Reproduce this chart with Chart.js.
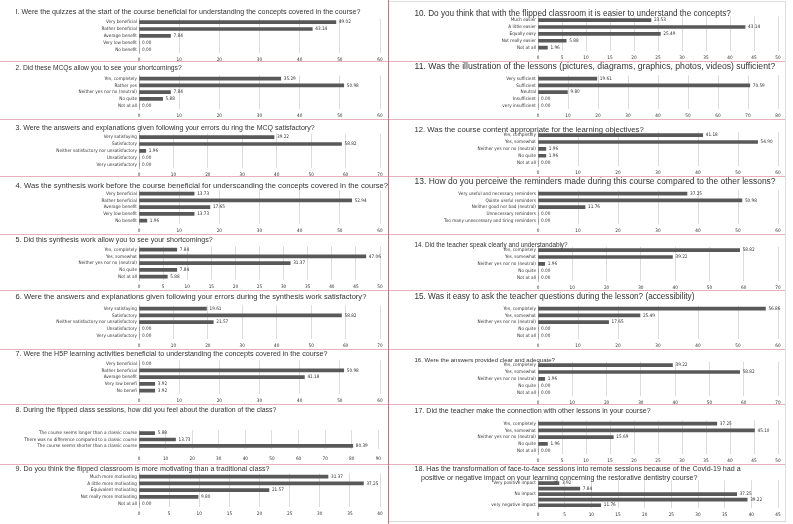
<!DOCTYPE html>
<html>
<head>
<meta charset="utf-8">
<script src="https://cdn.jsdelivr.net/npm/chart.js@4.4.1/dist/chart.umd.min.js"></script>
<style>
  html, body { margin: 0; padding: 0; background: #fff; }
  #sheet { position: relative; width: 793px; height: 524px; overflow: hidden; }
  #sheet canvas { position: absolute; }
  .title { position: absolute; white-space: pre; font-family: "Liberation Sans", Arial, sans-serif; color: #333; }
  .line { position: absolute; }
</style>
</head>
<body>
<div id="sheet"></div>
<script>
// --- survey answers (percent of students) ---
const q1Labels = ["Very beneficial", "Rather beneficial", "Average benefit", "Very low benefit", "No benefit"];
const q1Values = [49.02, 43.14, 7.84, 0, 0];
const q2Labels = ["Yes, completely", "Rather yes", "Neither yes nor no (neutral)", "No quite", "Not at all"];
const q2Values = [35.29, 50.98, 7.84, 5.88, 0];
const q3Labels = ["Very satisfaying", "Satisfactory", "Neither satisfactory nor unsatisfactory", "Unsatisfactory", "Very unsatisfactory"];
const q3Values = [39.22, 58.82, 1.96, 0, 0];
const q4Labels = ["Very beneficial", "Rather beneficial", "Average benefit", "Very low benefit", "No benefit"];
const q4Values = [13.73, 52.94, 17.65, 13.73, 1.96];
const q5Labels = ["Yes, completely", "Yes, somewhat", "Neither yes nor no (neutral)", "No quite", "Not at all"];
const q5Values = [7.84, 47.06, 31.37, 7.84, 5.88];
const q6Labels = ["Very satisfaying", "Satisfactory", "Neither satisfactory nor unsatisfactory", "Unsatisfactory", "Very unsatisfactory"];
const q6Values = [19.61, 58.82, 21.57, 0, 0];
const q7Labels = ["Very beneficial", "Rather beneficial", "Average benefit", "Very low benefi", "No benefi"];
const q7Values = [0, 50.98, 41.18, 3.92, 3.92];
const q8Labels = ["The course seems longer than a classic course", "There was no difference compared to a classic course", "The course seems shorter than a classic course"];
const q8Values = [5.88, 13.73, 80.39];
const q9Labels = ["Much more motivating", "A little more motivating", "Equivalent motivating", "Not really more motivating", "Not at all"];
const q9Values = [31.37, 37.25, 21.57, 9.80, 0];
const q10Labels = ["Much easier", "A little easier", "Equally easy", "Not really easier", "Not at all"];
const q10Values = [23.53, 43.14, 25.49, 5.88, 1.96];
const q11Labels = ["Very sufficient", "Sufficient", "Neutral", "Insufficient", "very insufficient"];
const q11Values = [19.61, 70.59, 9.80, 0, 0];
const q12Labels = ["Yes, completely", "Yes, somewhat", "Neither yes nor no (neutral)", "No quite", "Not at all"];
const q12Values = [41.18, 54.90, 1.96, 1.96, 0];
const q13Labels = ["Very useful and necessary reminders", "Quinte useful reminders", "Neither good nor bad (neutral)", "Unnecessary reminders", "Too many unnecessary and tiring reminders"];
const q13Values = [37.25, 50.98, 11.76, 0, 0];
const q14Labels = ["Yes, completely", "Yes, somewhat", "Neither yes nor no (neutral)", "No quite", "Not at all"];
const q14Values = [58.82, 39.22, 1.96, 0, 0];
const q15Labels = ["Yes, completely", "Yes, somewhat", "Neither yes nor no (neutral)", "No quite", "Not at all"];
const q15Values = [56.86, 25.49, 17.65, 0, 0];
const q16Labels = ["Yes, completely", "Yes, somewhat", "Neither yes nor no (neutral)", "No quite", "Not at all"];
const q16Values = [39.22, 58.82, 1.96, 0, 0];
const q17Labels = ["Yes, completely", "Yes, somewhat", "Neither yes nor no (neutral)", "No quite", "Not at all"];
const q17Values = [37.25, 45.10, 15.69, 1.96, 0];
const q18Labels = ["Very positive impact", "", "No impact", "", "very negative impact"];
const q18Values = [3.92, 7.84, 37.25, 39.22, 11.76];

const titles = [
  "I. Were the quizzes at the start of the course beneficial for understanding the concepts covered in the course?",
  "2. Did these MCQs allow you to see your shortcomings?",
  "3. Were the answers and explanations given following your errors du ring the MCQ satisfactory?",
  "4. Was the synthesis work before the course beneficial for underscanding the concepts covered in the course?",
  "5. Did this synthesis work allow you to see your shortcomings?",
  "6. Were the answers and explanations given following your errors during the synthesis work satisfactory?",
  "7. Were the H5P learning activities beneficial to understanding the concepts covered in the course?",
  "8. During the flipped class sessions, how did you feel about the duration of the class?",
  "9. Do you think the flipped classroom is more motivating than a traditional class?",
  "10. Do you think that with the flipped classroom it is easier to understand the concepts?",
  "11. Was the illustration of the lessons (pictures, diagrams, graphics, photos, videos) sufficient?",
  "12. Was the course content appropriate for the learning objectives?",
  "13. How do you perceive the reminders made during this course compared to the other lessons?",
  "14. Did the teacher speak clearly and understandably?",
  "15. Was it easy to ask the teacher questions during the lesson? (accessibility)",
  "16. Were the answers provided clear and adequate?",
  "17. Did the teacher make the connection with other lessons in your course?",
  ["18. Has the transformation of face-to-face sessions into remote sessions because of the Covid-19 had a",
   "positive or negative impact on your learning concerning the restorative dentistry course?"]
];
const axisMax  = [60, 60, 70, 60, 50, 70, 60, 90, 40, 50, 80, 60, 60, 70, 60, 70, 50, 45];
const axisStep = [10, 10, 10, 10, 5, 10, 10, 10, 5, 5, 10, 10, 10, 10, 10, 10, 5, 5];

const labelSets = [q1Labels, q2Labels, q3Labels, q4Labels, q5Labels, q6Labels, q7Labels, q8Labels, q9Labels,
  q10Labels, q11Labels, q12Labels, q13Labels, q14Labels, q15Labels, q16Labels, q17Labels, q18Labels];
const valueSets = [q1Values, q2Values, q3Values, q4Values, q5Values, q6Values, q7Values, q8Values, q9Values,
  q10Values, q11Values, q12Values, q13Values, q14Values, q15Values, q16Values, q17Values, q18Values];

// --- page layout (pixels) ---
const tickY = [[58.7, 115, 173.7, 230, 286, 345, 400, 460, 513],
               [56.7, 115, 171.7, 230, 286.7, 345, 401.7, 460, 513.3]];
const titleY = [12.7, 69, 127.7, 186, 240.7, 296.7, 355, 411, 470,
                15, 66.7, 130, 181.7, 245, 297, 360, 412, 470];
const titleEnd = [361, 182, 315, 389, 213, 367, 328, 277, 270,
                  731, 776, 644, 776, 568, 695, 555, 651, 741];
const separators = [61.2, 118.5, 176.2, 233.5, 289.8, 348.5, 404.3, 463.5];

const NARROW = "'Liberation Sans Narrow', 'DejaVu Sans Condensed', 'Liberation Sans', sans-serif";
const sheet = document.getElementById("sheet");

function addLine(x, y, w, h, color) {
  const d = document.createElement("div");
  d.className = "line";
  d.style.cssText = `left:${x}px;top:${y}px;width:${w}px;height:${h}px;background:${color};`;
  sheet.appendChild(d);
}

// text measuring, used to size fonts so text spans like in the source
const measureCtx = document.createElement("canvas").getContext("2d");
function textWidth(text, family) {
  measureCtx.font = "10px " + family;
  return measureCtx.measureText(text).width;
}
const TITLE_FONT = '"Liberation Sans", Arial, sans-serif';
// the long category label is about 81px wide in the source
const smallSize = 10 * 81 / textWidth("Neither satisfactory nor unsatisfactory", NARROW);

function addTitle(text, x, y, size) {
  const d = document.createElement("div");
  d.className = "title";
  d.textContent = text;
  d.style.left = x + "px";
  d.style.top = (y - size * 0.55) + "px";
  d.style.fontSize = size + "px";
  d.style.lineHeight = size + "px";
  sheet.appendChild(d);
}

// draws the percentages at the end of each bar
const valueLabels = {
  id: "valueLabels",
  afterDatasetsDraw(chart) {
    const ctx = chart.ctx;
    const data = chart.data.datasets[0].data;
    ctx.save();
    ctx.font = smallSize + "px " + NARROW;
    ctx.fillStyle = "#333";
    ctx.textBaseline = "middle";
    chart.getDatasetMeta(0).data.forEach((bar, i) => {
      ctx.fillText(data[i].toFixed(2), bar.x + 3, bar.y);
    });
    ctx.restore();
  }
};

for (let i = 0; i < 18; i++) {
  const col = i < 9 ? 0 : 1;
  const row = i % 9;
  const left = col ? 389 : 0;
  const width = col ? 396 : 388;
  const tick = tickY[col][row];

  // chart area offsets above the tick labels
  let topOff = 40, botOff = 7;
  if (i === 7) { topOff = 30; botOff = 10; }
  if (i === 17) { topOff = 33; botOff = 6.5; }

  const top = Math.floor(tick - 44);
  const height = Math.round(tick + 8) - top;

  const canvas = document.createElement("canvas");
  canvas.width = width;
  canvas.height = height;
  canvas.style.left = left + "px";
  canvas.style.top = top + "px";
  sheet.appendChild(canvas);

  new Chart(canvas, {
    type: "bar",
    data: {
      labels: labelSets[i],
      datasets: [{
        data: valueSets[i],
        backgroundColor: "#595959",
        barThickness: 3
      }]
    },
    options: {
      indexAxis: "y",
      responsive: false,
      animation: false,
      events: [],
      layout: { padding: { left: 0, right: col ? 7 : 8, top: tick - topOff - top, bottom: 0 } },
      plugins: { legend: { display: false }, tooltip: { enabled: false } },
      scales: {
        x: {
          min: 0,
          max: axisMax[i],
          ticks: { stepSize: axisStep[i], color: "#333", padding: botOff - 3, font: { family: NARROW, size: smallSize, lineHeight: 6 / smallSize } },
          grid: { color: "#dcdcdc", drawTicks: false },
          border: { display: false }
        },
        y: {
          ticks: { color: "#333", padding: 2, autoSkip: false, font: { family: NARROW, size: smallSize, lineHeight: 1 } },
          grid: { display: false, drawTicks: false },
          border: { color: "#bdbdbd" },
          afterFit: s => { s.width = col ? 149 : 139; }
        }
      }
    },
    plugins: [valueLabels]
  });

  const startX = col ? 414.5 : 15.5;
  const first = Array.isArray(titles[i]) ? titles[i][0] : titles[i];
  const size = 10 * (titleEnd[i] - startX) / textWidth(first, TITLE_FONT);
  if (Array.isArray(titles[i])) {
    addTitle(titles[i][0], startX, titleY[i], size);
    addTitle(titles[i][1], 421, titleY[i] + 8.5, size);
  } else {
    addTitle(titles[i], startX, titleY[i], size);
  }
}

// panel frames
separators.forEach(y => addLine(0, Math.round(y), 786, 1, "#e4b1bc"));
addLine(389, 1, 397, 1, "#dedede");
addLine(389, 521, 397, 1, "#d6d6d6");
addLine(785, 1, 1, 521, "#dcdcdc");
addLine(388, 0, 1, 524, "#d26b84");
</script>
</body>
</html>
